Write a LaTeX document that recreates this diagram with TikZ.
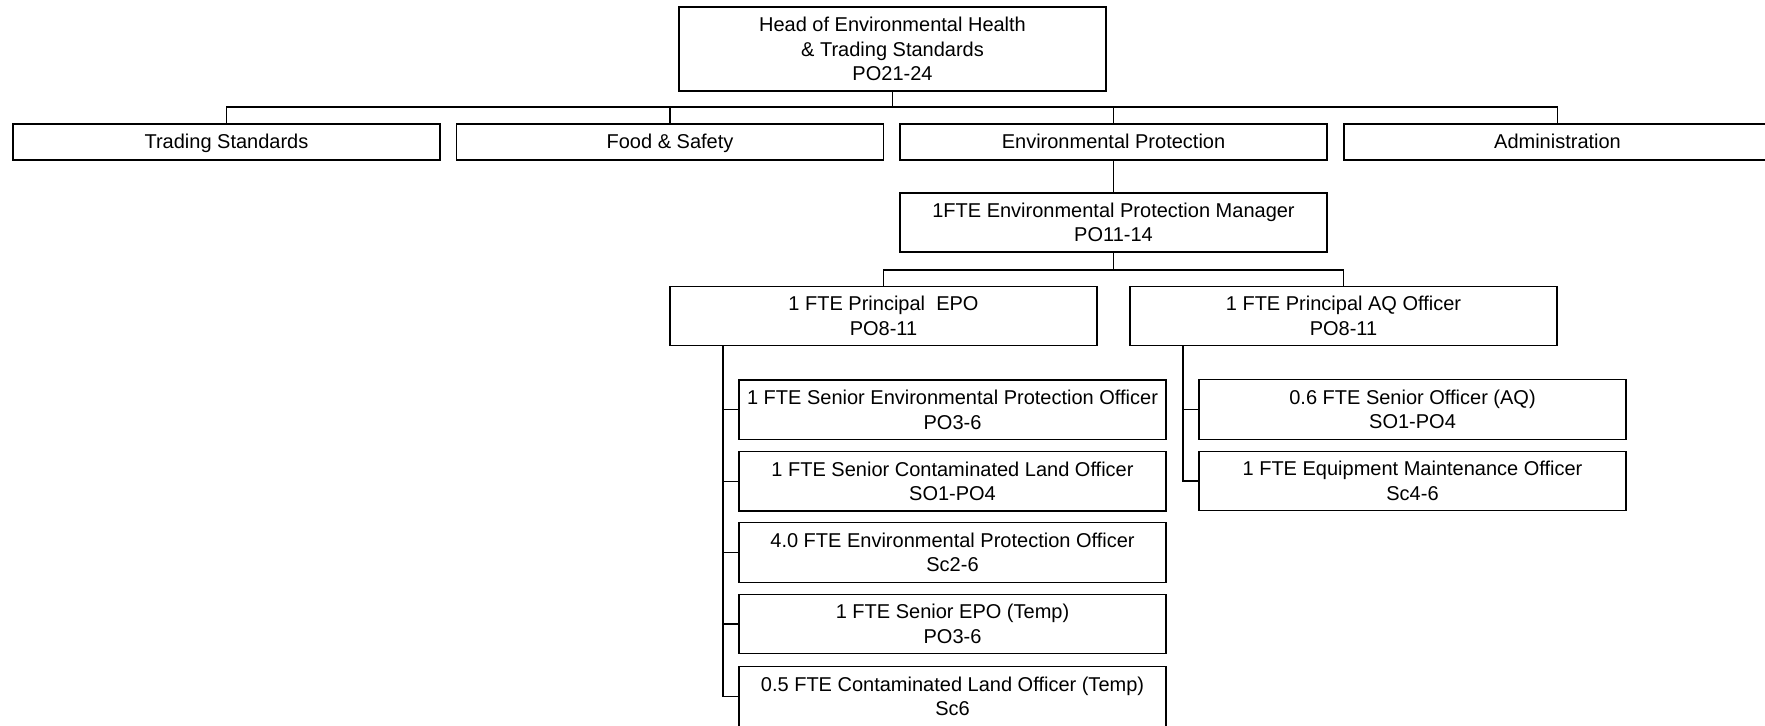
\documentclass[tikz,border=0pt]{standalone}
\usepackage{fontspec}
\setmainfont{Liberation Sans}
\begin{document}
\begin{tikzpicture}[x=0.5pt,y=-0.5pt,
  orgbox/.style={draw, line width=0.6pt, inner sep=0pt, align=center,
    minimum width=213.5pt, font=\fontsize{10pt}{12.2pt}\selectfont},
  tall/.style={minimum height=42pt},
  flat/.style={minimum height=18pt, text height=8.2pt, text depth=1.4pt},
  mid/.style={minimum height=29.8pt},
  link/.style={line width=0.6pt}]
\useasboundingbox (0,0) rectangle (1765,725);
\clip (0,0) rectangle (1765,725);
\fill[white] (0,0) rectangle (1765,725);

% head
\node[orgbox,tall] (head) at (892.5,49) {Head of Environmental Health\\\& Trading Standards\\PO21-24};
% level 1
\node[orgbox,flat] (ts) at (226.5,142) {Trading Standards};
\node[orgbox,flat] (fs) at (670,142) {Food \& Safety};
\node[orgbox,flat] (ep) at (1113.5,142) {Environmental Protection};
\node[orgbox,flat] (ad) at (1557.5,142) {Administration};
% manager
\node[orgbox,mid,minimum height=29.5pt] (mgr) at (1113.5,222.5) {1FTE Environmental Protection Manager\\PO11-14};
% principals
\node[orgbox,mid] (pepo) at (883.5,316) {1 FTE Principal\ \ EPO\\PO8-11};
\node[orgbox,mid] (paq) at (1343.5,316) {1 FTE Principal AQ Officer\\PO8-11};
% left staff
\node[orgbox,mid] (s1) at (952.5,409.8) {1 FTE Senior Environmental Protection Officer\\PO3-6};
\node[orgbox,mid] (s2) at (952.5,481.2) {1 FTE Senior Contaminated Land Officer\\SO1-PO4};
\node[orgbox,mid] (s3) at (952.5,552.6) {4.0 FTE Environmental Protection Officer\\Sc2-6};
\node[orgbox,mid] (s4) at (952.5,624) {1 FTE Senior EPO (Temp)\\PO3-6};
\node[orgbox,mid] (s5) at (952.5,696.5) {0.5 FTE Contaminated Land Officer (Temp)\\Sc6};
% right staff
\node[orgbox,mid] (r1) at (1412.5,409.5) {0.6 FTE Senior Officer (AQ)\\SO1-PO4};
\node[orgbox,mid] (r2) at (1412.5,481) {1 FTE Equipment Maintenance Officer\\Sc4-6};

% connector coordinates
\coordinate (hb) at (892.5,107);
\coordinate (mb) at (1113.5,270);
\coordinate (lv) at (723,0);
\coordinate (rv) at (1183,0);

% head to level 1
\draw[link] (head.south) -- (hb);
\draw[link] (ts.north) |- (hb) -| (ad.north);
\draw[link] (fs.north) -- (fs.north |- hb);
\draw[link] (ep.north) -- (ep.north |- hb);
% env prot to manager
\draw[link] (ep.south) -- (mgr.north);
% manager to principals
\draw[link] (mgr.south) -- (mb);
\draw[link] (pepo.north) |- (mb) -| (paq.north);
% principal EPO to staff
\draw[link] (pepo.south -| lv) |- (s5.west);
\draw[link] (s1.west) -- (s1.west -| lv);
\draw[link] (s2.west) -- (s2.west -| lv);
\draw[link] (s3.west) -- (s3.west -| lv);
\draw[link] (s4.west) -- (s4.west -| lv);
% principal AQ to staff
\draw[link] (paq.south -| rv) |- (r2.west);
\draw[link] (r1.west) -- (r1.west -| rv);
\end{tikzpicture}
\end{document}
